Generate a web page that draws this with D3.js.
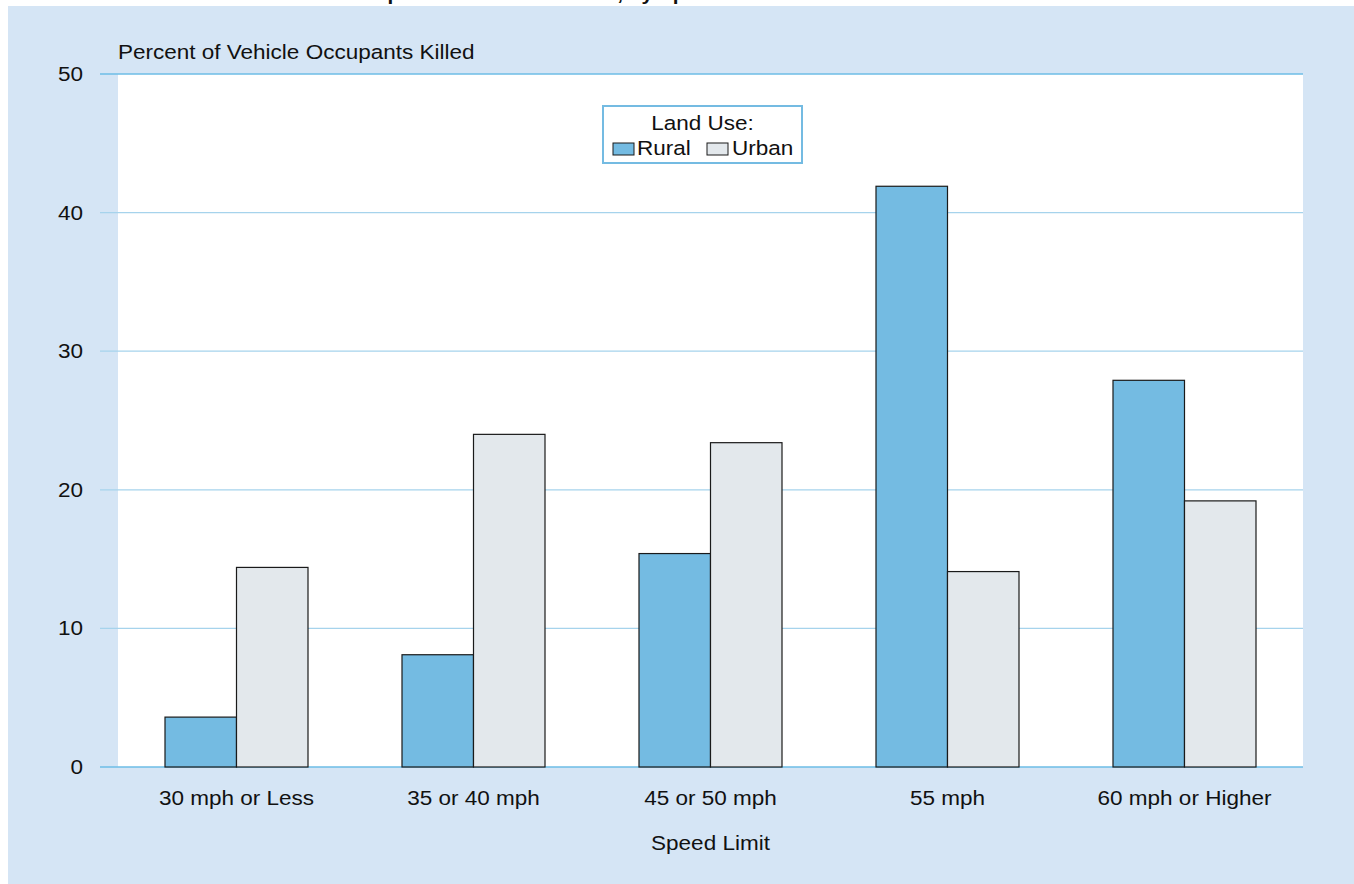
<!DOCTYPE html>
<html>
<head>
<meta charset="utf-8">
<script src="https://cdn.jsdelivr.net/npm/d3@7"></script>
<style>
  html, body { margin: 0; padding: 0; background: #ffffff; }
  svg { display: block; font-family: "Liberation Sans", Arial, sans-serif; }
</style>
</head>
<body>
<svg id="chart" width="1354" height="884"></svg>
<script>
const categories = ["30 mph or Less", "35 or 40 mph", "45 or 50 mph", "55 mph", "60 mph or Higher"];
const seriesNames = ["Rural", "Urban"];
const rural = [3.6, 8.1, 15.4, 41.9, 27.9];
const urban = [14.4, 24.0, 23.4, 14.1, 19.2];
const yTicks = [0, 10, 20, 30, 40, 50];
const titleText = "Percent of Occupants Killed in Crashes, by Speed Limit";
const yAxisTitle = "Percent of Vehicle Occupants Killed";
const xAxisTitle = "Speed Limit";
const legendTitle = "Land Use:";

const colors = { Rural: "#74bbe2", Urban: "#e3e8ec" };
const SX = 1.155; // horizontal text stretch seen in the reference
const FS = 19.5;

const svg = d3.select("#chart");
const W = 1354, H = 884;
const plot = { left: 118, right: 1303, top: 74, bottom: 767 };

// panel background
svg.append("rect").attr("x", 8).attr("y", 6).attr("width", W - 8).attr("height", H - 6).attr("fill", "#d5e5f5");

// helper for stretched text
function txt(x, y, s, opts = {}) {
  const g = svg.append("g").attr("transform", `translate(${x},${y}) scale(${opts.sx || SX},1)`);
  return g.append("text")
    .attr("x", 0).attr("y", 0)
    .attr("text-anchor", opts.anchor || "start")
    .attr("font-size", opts.size || FS)
    .attr("font-weight", opts.weight || "normal")
    .attr("fill", "#111")
    .text(s);
}

// clipped title (only the bottom sliver is visible in the reference)
txt(228, -0.5, titleText, { size: 18, weight: "bold" });

// plot area
svg.append("rect").attr("x", plot.left).attr("y", plot.top)
  .attr("width", plot.right - plot.left).attr("height", plot.bottom - plot.top).attr("fill", "#ffffff");

const y = d3.scaleLinear().domain([0, 50]).range([plot.bottom, plot.top]);
const x0 = d3.scaleBand().domain(categories).range([plot.left, plot.right]).paddingInner(0).paddingOuter(0);
const x1 = d3.scaleBand().domain(seriesNames).range([0, 143]);
const groupOffset = (x0.bandwidth() - 143) / 2;

// gridlines
yTicks.forEach(t => {
  const strong = (t === 0 || t === 50);
  svg.append("line")
    .attr("x1", 100).attr("x2", plot.right)
    .attr("y1", y(t)).attr("y2", y(t))
    .attr("stroke", strong ? "#6cbde6" : "#a6d3ec")
    .attr("stroke-width", strong ? 1.6 : 1.3);
});

// y tick labels
yTicks.forEach(t => {
  txt(83, y(t) + 7, String(t), { anchor: "end" });
});

// bars
const data = categories.map((c, i) => ({ c, vals: [{ k: "Rural", v: rural[i] }, { k: "Urban", v: urban[i] }] }));
const groups = svg.append("g").selectAll("g").data(data).join("g")
  .attr("transform", d => `translate(${x0(d.c) + groupOffset},0)`);
groups.selectAll("rect").data(d => d.vals).join("rect")
  .attr("x", d => x1(d.k))
  .attr("y", d => y(d.v))
  .attr("width", x1.bandwidth())
  .attr("height", d => y(0) - y(d.v))
  .attr("fill", d => colors[d.k])
  .attr("stroke", "#1a1a1a")
  .attr("stroke-width", 1.2);

// x labels
categories.forEach(c => {
  txt(x0(c) + x0.bandwidth() / 2, 805, c, { anchor: "middle" });
});
txt((plot.left + plot.right) / 2, 850, xAxisTitle, { anchor: "middle" });

// y axis title
txt(118, 59, yAxisTitle);

// legend
const lg = { x: 603, y: 106, w: 199, h: 57 };
svg.append("rect").attr("x", lg.x).attr("y", lg.y).attr("width", lg.w).attr("height", lg.h)
  .attr("fill", "#ffffff").attr("stroke", "#74bbe2").attr("stroke-width", 2);
txt(lg.x + lg.w / 2, 130, legendTitle, { anchor: "middle" });
const legendItems = [{ k: "Rural", sx: 613, tx: 637 }, { k: "Urban", sx: 707, tx: 732 }];
legendItems.forEach(it => {
  svg.append("rect").attr("x", it.sx).attr("y", 143).attr("width", 21).attr("height", 12)
    .attr("fill", colors[it.k]).attr("stroke", "#1a1a1a").attr("stroke-width", 1);
  txt(it.tx, 155, it.k);
});
</script>
</body>
</html>
